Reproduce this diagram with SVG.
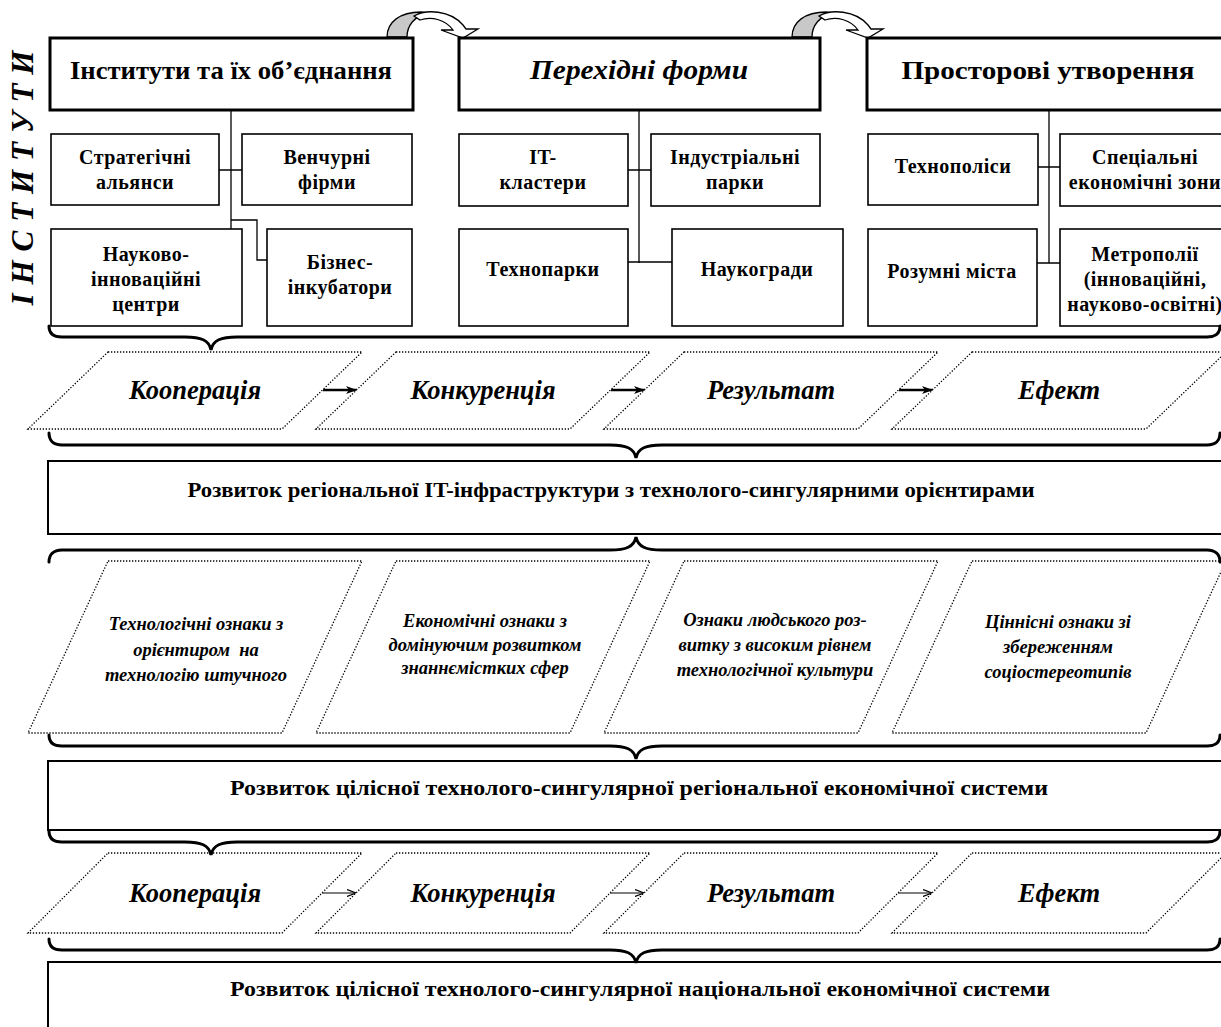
<svg xmlns="http://www.w3.org/2000/svg" width="1221" height="1027" viewBox="0 0 1221 1027">
<style>
.bx3{fill:#fff;stroke:#000;stroke-width:3}
.bx{fill:#fff;stroke:#000;stroke-width:1.6}
.bb{fill:#fff;stroke:#000;stroke-width:2}
.para{fill:#fff;stroke:#000;stroke-width:1.3;stroke-dasharray:1.3 1.7}
.brace{fill:none;stroke:#000;stroke-width:3;stroke-linecap:round}
.conn{fill:none;stroke:#000;stroke-width:1.3}
.ar1{fill:none;stroke:#000;stroke-width:2.4}
.ar2{fill:none;stroke:#000;stroke-width:1.2}
text{font-family:"Liberation Serif","Times New Roman",serif;fill:#000;text-anchor:middle}
.t1{font-size:26px;font-weight:bold}
.t1i{font-size:27px;font-weight:bold;font-style:italic}
.t2{font-size:20px;font-weight:bold;letter-spacing:0.5px}
.t3{font-size:26.5px;font-weight:bold;font-style:italic}
.t4{font-size:18.5px;font-weight:bold;font-style:italic}
.t5{font-size:20px;font-weight:bold}
.vt{font-size:31px;font-weight:bold;font-style:italic}
.cva{fill:#c8c8c8;stroke:#000;stroke-width:1.3}
.cvw{fill:#fff;stroke:#000;stroke-width:1.3}
</style>
<defs>
<marker id="mh1" markerUnits="userSpaceOnUse" markerWidth="12" markerHeight="10" refX="11" refY="5" orient="auto"><path d="M0,1 L11,5 L0,9 L3,5 Z" fill="#000"/></marker>
<marker id="mh2" markerUnits="userSpaceOnUse" markerWidth="10" markerHeight="8" refX="9" refY="4" orient="auto"><path d="M0,0.5 L9,4 L0,7.5" fill="none" stroke="#000" stroke-width="1.2"/></marker>
</defs>
<rect width="1221" height="1027" fill="#fff"/>

<g id="side-label"><text class="vt" transform="translate(33,178) rotate(-90)" textLength="255" lengthAdjust="spacing">ІНСТИТУТИ</text></g>

<g id="curved-arrows">
<path class="cva" d="M387,37 C387,22 400,12 421,12 L428,13 C414,16 407,26 407,37 Z"/>
<path class="cvw" d="M414,16 C426,9 450,10 463,25 L466,29 L478,29 L463,38 L441,30 L453,30 C446,20 432,16 420,20 Z"/>
<path class="cva" d="M792,37 C792,22 805,12 826,12 L833,13 C819,16 812,26 812,37 Z"/>
<path class="cvw" d="M819,16 C831,9 855,10 868,25 L871,29 L883,29 L868,38 L846,30 L858,30 C851,20 837,16 825,20 Z"/>
</g>

<g id="connectors">
<path class="conn" d="M231,110 V229 M219,170 H242 M231,220 H257 V260 H267"/>
<path class="conn" d="M639,110 V263 M628,170 H651 M628,262 H672"/>
<path class="conn" d="M1049,110 V263 M1038,167 H1060 M1037,263 H1060"/>
<path class="ar1" d="M323,390 H357" marker-end="url(#mh1)"/>
<path class="ar1" d="M611,390 H645" marker-end="url(#mh1)"/>
<path class="ar1" d="M899,390 H933" marker-end="url(#mh1)"/>
<path class="ar2" d="M322,893 H356" marker-end="url(#mh2)"/>
<path class="ar2" d="M610,893 H644" marker-end="url(#mh2)"/>
<path class="ar2" d="M898,893 H932" marker-end="url(#mh2)"/>
</g>

<g id="n-institutes"><rect class="bx3" x="50" y="38" width="363" height="72"/><text class="t1" x="231" y="79" textLength="322" lengthAdjust="spacingAndGlyphs">Інститути та їх об’єднання</text></g>
<g id="n-transitional"><rect class="bx3" x="459" y="38" width="361" height="72"/><text class="t1i" x="639" y="79" textLength="218" lengthAdjust="spacingAndGlyphs">Перехідні форми</text></g>
<g id="n-spatial"><rect class="bx3" x="867" y="38" width="363" height="72"/><text class="t1" x="1048" y="79" textLength="293" lengthAdjust="spacingAndGlyphs">Просторові утворення</text></g>

<g id="n-alliances"><rect class="bx" x="51" y="134" width="168" height="71"/><text class="t2" x="135" y="164">Стратегічні</text><text class="t2" x="135" y="189">альянси</text></g>
<g id="n-venture"><rect class="bx" x="242" y="134" width="170" height="71"/><text class="t2" x="327" y="164">Венчурні</text><text class="t2" x="327" y="189">фірми</text></g>
<g id="n-sci-centers"><rect class="bx" x="51" y="229" width="191" height="97"/><text class="t2" x="146" y="261">Науково-</text><text class="t2" x="146" y="286">інноваційні</text><text class="t2" x="146" y="311">центри</text></g>
<g id="n-incubators"><rect class="bx" x="267" y="229" width="145" height="97"/><text class="t2" x="340" y="269">Бізнес-</text><text class="t2" x="340" y="294">інкубатори</text></g>

<g id="n-it-clusters"><rect class="bx" x="459" y="134" width="169" height="72"/><text class="t2" x="543" y="164">IT-</text><text class="t2" x="543" y="189">кластери</text></g>
<g id="n-ind-parks"><rect class="bx" x="651" y="134" width="169" height="72"/><text class="t2" x="735" y="164">Індустріальні</text><text class="t2" x="735" y="189">парки</text></g>
<g id="n-technoparks"><rect class="bx" x="459" y="229" width="169" height="97"/><text class="t2" x="543" y="276">Технопарки</text></g>
<g id="n-science-cities"><rect class="bx" x="672" y="229" width="171" height="97"/><text class="t2" x="757" y="276">Наукогради</text></g>

<g id="n-technopolis"><rect class="bx" x="868" y="134" width="170" height="71"/><text class="t2" x="953" y="173">Технополіси</text></g>
<g id="n-sez"><rect class="bx" x="1060" y="134" width="170" height="72"/><text class="t2" x="1145" y="164">Спеціальні</text><text class="t2" x="1145" y="189">економічні зони</text></g>
<g id="n-smart"><rect class="bx" x="868" y="229" width="169" height="97"/><text class="t2" x="952" y="278">Розумні міста</text></g>
<g id="n-metro"><rect class="bx" x="1060" y="229" width="170" height="97"/><text class="t2" x="1145" y="261">Метрополії</text><text class="t2" x="1145" y="286">(інноваційні,</text><text class="t2" x="1145" y="311">науково-освітні)</text></g>

<g id="row1">
<g id="r1-coop"><path class="para" d="M108,352 H362 L282,429 H28 Z"/><text class="t3" x="195" y="399">Кооперація</text></g>
<g id="r1-comp"><path class="para" d="M396,352 H650 L570,429 H316 Z"/><text class="t3" x="483" y="399">Конкуренція</text></g>
<g id="r1-res"><path class="para" d="M684,352 H938 L858,429 H604 Z"/><text class="t3" x="771" y="399">Результат</text></g>
<g id="r1-eff"><path class="para" d="M972,352 H1226 L1146,429 H892 Z"/><text class="t3" x="1059" y="399">Ефект</text></g>
</g>

<g id="n-it-infra"><rect class="bb" x="48" y="461" width="1185" height="73"/><text class="t5" x="611" y="497" textLength="847" lengthAdjust="spacingAndGlyphs">Розвиток регіональної IT-інфраструктури з технолого-сингулярними орієнтирами</text></g>

<g id="row2">
<g id="r2-tech"><path class="para" d="M108,561 H362 L282,733 H28 Z"/><text class="t4" x="196" y="630">Технологічні ознаки з</text><text class="t4" x="196" y="656" xml:space="preserve">орієнтиром  на</text><text class="t4" x="196" y="681">технологію штучного</text></g>
<g id="r2-econ"><path class="para" d="M396,561 H650 L570,733 H316 Z"/><text class="t4" x="485" y="627">Економічні ознаки з</text><text class="t4" x="485" y="651">домінуючим розвитком</text><text class="t4" x="485" y="674">знаннємістких сфер</text></g>
<g id="r2-human"><path class="para" d="M684,561 H938 L858,733 H604 Z"/><text class="t4" x="775" y="626">Ознаки людського роз-</text><text class="t4" x="775" y="651">витку з високим рівнем</text><text class="t4" x="775" y="676">технологічної культури</text></g>
<g id="r2-values"><path class="para" d="M972,561 H1226 L1146,733 H892 Z"/><text class="t4" x="1058" y="628">Ціннісні ознаки зі</text><text class="t4" x="1058" y="653">збереженням</text><text class="t4" x="1058" y="678">соціостереотипів</text></g>
</g>

<g id="n-regional"><rect class="bb" x="48" y="761" width="1185" height="69"/><text class="t5" x="639" y="795" textLength="818" lengthAdjust="spacingAndGlyphs">Розвиток цілісної технолого-сингулярної регіональної економічної системи</text></g>

<g id="row3">
<g id="r3-coop"><path class="para" d="M108,853 H362 L282,933 H28 Z"/><text class="t3" x="195" y="902">Кооперація</text></g>
<g id="r3-comp"><path class="para" d="M396,853 H650 L570,933 H316 Z"/><text class="t3" x="483" y="902">Конкуренція</text></g>
<g id="r3-res"><path class="para" d="M684,853 H938 L858,933 H604 Z"/><text class="t3" x="771" y="902">Результат</text></g>
<g id="r3-eff"><path class="para" d="M972,853 H1226 L1146,933 H892 Z"/><text class="t3" x="1059" y="902">Ефект</text></g>
</g>

<g id="n-national"><rect class="bb" x="48" y="962" width="1185" height="80"/><text class="t5" x="640" y="996" textLength="820" lengthAdjust="spacingAndGlyphs">Розвиток цілісної технолого-сингулярної національної економічної системи</text></g>

<g id="braces">
<path class="brace" d="M49,326 C49,333 53,337 62,337 L185,337 C201,337 209,340 211,350 C213,340 221,337 237,337 L1207,337 C1216,337 1220,333 1220,326"/>
<path class="brace" d="M49,433 C49,440 53,445 62,445 L610,445 C626,445 634,448 636,458 C638,448 646,445 662,445 L1207,445 C1216,445 1220,440 1220,433"/>
<path class="brace" d="M49,562 C49,555 53,550 62,550 L610,550 C626,550 634,547 636,537 C638,547 646,550 662,550 L1207,550 C1216,550 1220,555 1220,562"/>
<path class="brace" d="M49,735 C49,742 53,746 62,746 L610,746 C626,746 634,749 636,759 C638,749 646,746 662,746 L1207,746 C1216,746 1220,742 1220,735"/>
<path class="brace" d="M49,831 C49,838 53,842 62,842 L185,842 C201,842 209,845 211,855 C213,845 221,842 237,842 L1207,842 C1216,842 1220,838 1220,831"/>
<path class="brace" d="M49,939 C49,946 53,950 62,950 L610,950 C626,950 634,953 636,963 C638,953 646,950 662,950 L1207,950 C1216,950 1220,946 1220,939"/>
</g>
</svg>
